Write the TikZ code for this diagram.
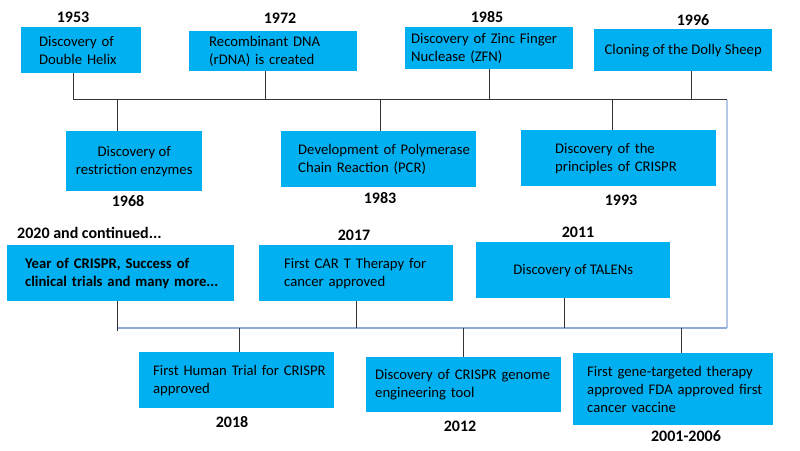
\documentclass[tikz,border=0pt]{standalone}
\usepackage{fontspec}
\setmainfont{Carlito}
\definecolor{boxblue}{HTML}{00B0F0}
\definecolor{linegray}{HTML}{333333}
\definecolor{lineblue}{HTML}{8EAADB}
\definecolor{lineblue2}{HTML}{B4C7E7}
\newcommand\mybody{\fontsize{14.7pt}{18pt}\selectfont}
\newcommand\myyear{\fontsize{16pt}{19pt}\selectfont\bfseries}
\begin{document}
\begin{tikzpicture}[x=1pt,y=-1pt,
  box/.style={fill=boxblue, inner sep=0pt, anchor=north west, font=\mybody, text=black},
  lbox/.style={box, align=left},
  cbox/.style={box, align=center},
  yearlbl/.style={font=\myyear, inner sep=0pt, text=black},
  conn/.style={draw=linegray, line width=1.2pt},
  mainline/.style={draw=linegray, line width=1.3pt},
  blueline/.style={draw=lineblue, line width=1.3pt},
  blueline2/.style={draw=lineblue2, line width=1.3pt}]
\useasboundingbox (0,0) rectangle (800,450);

% timeline coordinates
\coordinate (t1) at (73,99.5);
\coordinate (t2) at (727,99.5);
\coordinate (b1) at (117,328);
\coordinate (b2) at (727,328);

% top row
\node[lbox, minimum width=120pt, minimum height=46pt, text width=84pt] (helix) at (21,27)
  {\mbox{Discovery of}\\\mbox{Double Helix}};
\node[lbox, minimum width=168pt, minimum height=40pt, text width=128pt] (rdna) at (189,31)
  {\mbox{Recombinant DNA}\\\mbox{(rDNA) is created}};
\node[lbox, minimum width=168pt, minimum height=42pt, text width=156pt] (zfn) at (405,27)
  {\mbox{Discovery of Zinc Finger}\\\mbox{Nuclease (ZFN)}};
\node[cbox, minimum width=178pt, minimum height=42pt] (dolly) at (594,29)
  {Cloning of the Dolly Sheep};

\node[yearlbl] (y1953) at (73,17) {1953};
\node[yearlbl] (y1972) at (280,18.5) {1972};
\node[yearlbl] (y1985) at (487,17) {1985};
\node[yearlbl] (y1996) at (693,20) {1996};

% second row
\node[cbox, minimum width=136pt, minimum height=60pt] (restr) at (66,131)
  {Discovery of\\restriction enzymes};
\node[lbox, minimum width=195pt, minimum height=56pt, text width=161pt] (pcr) at (281,131)
  {\mbox{Development of Polymerase}\\\mbox{Chain Reaction (PCR)}};
\node[lbox, minimum width=195pt, minimum height=56pt, text width=127pt] (princ) at (521,130)
  {\mbox{Discovery of the}\\\mbox{principles of CRISPR}};

\node[yearlbl] (y1968) at (128,201) {1968};
\node[yearlbl] (y1983) at (380,198.5) {1983};
\node[yearlbl] (y1993) at (621,200.5) {1993};

% third row
\node[lbox, minimum width=227pt, minimum height=56pt, text width=191pt, font=\mybody\bfseries] (y2020box) at (7,245)
  {\mbox{Year of CRISPR, Success of}\\\mbox{clinical trials and many more...}};
\node[lbox, minimum width=194pt, minimum height=56pt, text width=144pt] (cart) at (259,245)
  {\mbox{First CAR T Therapy for}\\\mbox{cancer approved}};
\node[cbox, minimum width=194pt, minimum height=56pt] (talens) at (476,242)
  {Discovery of TALENs};

\node[yearlbl, anchor=west] (y2020) at (17,233) {2020 and continued...};
\node[yearlbl] (y2017) at (354,235.5) {2017};
\node[yearlbl] (y2011) at (578,232.5) {2011};

% bottom row
\node[lbox, minimum width=195pt, minimum height=56pt, text width=167pt] (human) at (139,352)
  {\mbox{First Human Trial for CRISPR}\\\mbox{approved}};
\node[lbox, minimum width=195pt, minimum height=55pt, text width=177pt] (genome) at (366,357)
  {\mbox{Discovery of CRISPR genome}\\\mbox{engineering tool}};
\node[lbox, minimum width=200pt, minimum height=72pt, text width=172pt] (gene) at (573,353)
  {\mbox{First gene-targeted therapy}\\\mbox{approved FDA approved first}\\\mbox{cancer vaccine}};

\node[yearlbl] (y2018) at (232,422.5) {2018};
\node[yearlbl] (y2012) at (460,426) {2012};
\node[yearlbl] (y2001) at (686,436) {2001-2006};

% timeline
\draw[blueline2] (t2) -- (b2);
\draw[blueline] (b2) -- (b1);
\draw[mainline] (t1) -- (t2);

% connectors to top line
\draw[conn] ([xshift=-8pt]helix.south) -- ([xshift=-8pt]helix.south |- t1);
\draw[conn] ([xshift=-8pt]rdna.south) -- ([xshift=-8pt]rdna.south |- t1);
\draw[conn] (zfn.south) -- (zfn.south |- t1);
\draw[conn] ([xshift=8pt]dolly.south) -- ([xshift=8pt]dolly.south |- t1);
\draw[conn] ([xshift=-17pt]restr.north |- t1) -- ([xshift=-17pt]restr.north);
\draw[conn] ([xshift=1.5pt]pcr.north |- t1) -- ([xshift=1.5pt]pcr.north);
\draw[conn] ([xshift=-6.5pt]princ.north |- t1) -- ([xshift=-6.5pt]princ.north);

% connectors to bottom line
\draw[conn] ([xshift=-3.5pt]y2020box.south) -- ([xshift=-3.5pt,yshift=-3pt]y2020box.south |- b1);
\draw[conn] (cart.south) -- (cart.south |- b1);
\draw[conn] ([xshift=-9pt]talens.south) -- ([xshift=-9pt]talens.south |- b1);
\draw[conn] ([xshift=2.5pt]human.north |- b1) -- ([xshift=2.5pt]human.north);
\draw[conn] ([xshift=-0.5pt]genome.north |- b1) -- ([xshift=-0.5pt]genome.north);
\draw[conn] ([xshift=8pt]gene.north |- b1) -- ([xshift=8pt]gene.north);
\end{tikzpicture}
\end{document}
